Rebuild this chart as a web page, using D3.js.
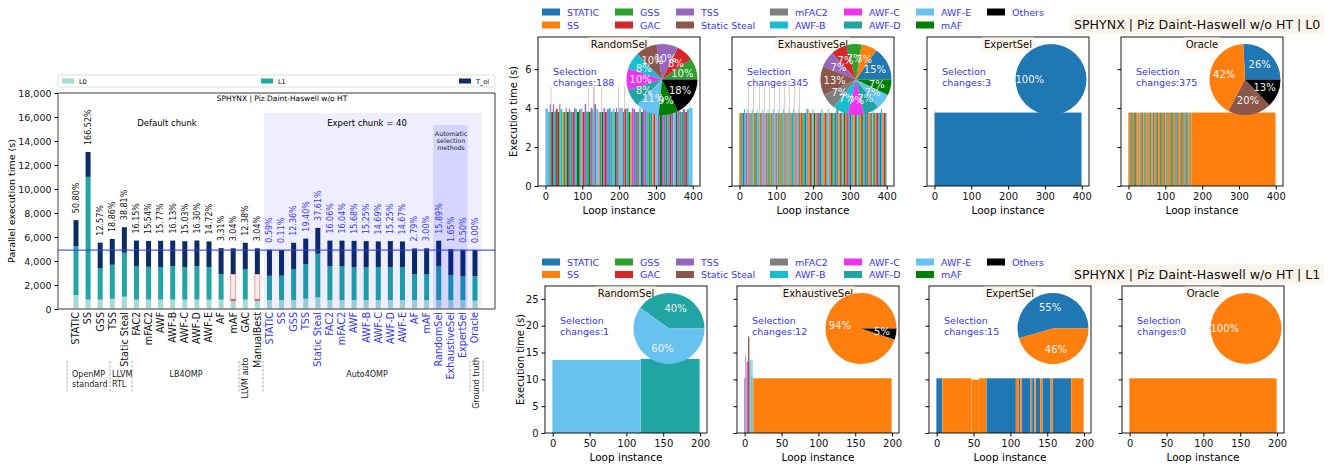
<!DOCTYPE html>
<html>
<head>
<meta charset="utf-8">
<script src="https://cdn.jsdelivr.net/npm/d3@7"></script>
<style>
body { margin: 0; background: #fff; font-family: "DejaVu Sans", sans-serif; }
</style>
</head>
<body>
<script>
// ---------- left chart data ----------
var defaultLabels = ["STATIC", "SS", "GSS", "TSS", "Static Steal", "FAC2", "mFAC2", "AWF", "AWF-B", "AWF-C", "AWF-D", "AWF-E", "AF", "mAF", "GAC", "ManualBest"];
var autoLabels = ["STATIC", "SS", "GSS", "TSS", "Static Steal", "FAC2", "mFAC2", "AWF", "AWF-B", "AWF-C", "AWF-D", "AWF-E", "AF", "mAF", "RandomSel", "ExhaustiveSel", "ExpertSel", "Oracle"];

var l0Default  = [1165, 780, 780, 860, 1025, 780, 780, 780, 780, 780, 780, 780, 780, 750, 780, 750];
var l1Default  = [4075, 10230, 2630, 2830, 3665, 2800, 2740, 2710, 2800, 2710, 2800, 2710, 2130, 2160, 2550, 2160];
var tolDefault = [2164, 2076, 2117, 2146, 2126, 2123, 2153, 2194, 2122, 2158, 2130, 2143, 2163, 2149, 2188, 2149];
var pctDefault = ["50.80%", "166.52%", "12.57%", "18.86%", "38.81%", "16.15%", "15.54%", "15.77%", "16.13%", "15.03%", "16.30%", "14.72%", "3.31%", "3.04%", "12.38%", "3.04%"];

var l0Auto  = [750, 750, 750, 860, 970, 750, 750, 750, 750, 750, 750, 750, 750, 750, 750, 750, 750, 700];
var l1Auto  = [2020, 2020, 2580, 2880, 3630, 2830, 2830, 2740, 2740, 2740, 2740, 2740, 2160, 2160, 2830, 2080, 2000, 2050];
var tolAuto = [2169, 2145, 2187, 2123, 2157, 2119, 2118, 2190, 2169, 2141, 2169, 2140, 2137, 2147, 2110, 2161, 2185, 2160];
var pctAuto = ["0.59%", "0.11%", "12.36%", "19.40%", "37.61%", "16.06%", "16.04%", "15.68%", "15.25%", "14.69%", "15.25%", "14.67%", "2.79%", "3.00%", "15.89%", "1.65%", "0.50%", "0.00%"];

var oracleTime = 4910;
var yTicksLeft = [0, 2000, 4000, 6000, 8000, 10000, 12000, 14000, 16000, 18000];

// ---------- right panels data ----------
var legendNames = ["STATIC", "SS", "GSS", "GAC", "TSS", "Static Steal", "mFAC2", "AWF-B", "AWF-C", "AWF-D", "AWF-E", "mAF", "Others"];
var codeNames = {S: "STATIC", O: "SS", G: "GSS", C: "GAC", T: "TSS", B: "Static Steal", M: "mFAC2",
                 Y: "AWF-B", P: "AWF-C", D: "AWF-D", E: "AWF-E", A: "mAF", K: "Others"};
var panelTitles = ["RandomSel", "ExhaustiveSel", "ExpertSel", "Oracle"];
var changesL0 = [188, 345, 3, 375];
var changesL1 = [1, 12, 15, 0];

// runs: [method code, number of loop instances, execution time]
var randomSelL0 = [
  ["E",8,3.98],["D",4,3.8],["T",3,4.2],["B",1,5.1],["A",5,3.8],["P",3,4.2],["D",5,3.82],["C",5,3.95],
  ["A",4,3.8],["T",3,4.2],["Y",5,3.95],["O",3,3.78],["G",6,3.8],["P",3,4.0],["A",6,3.8],["T",4,3.95],
  ["D",6,3.8],["C",4,3.8],["P",3,4.0],["Y",5,3.95],["A",6,3.8],["B",4,3.95],["E",5,3.98],["C",6,3.8],
  ["T",4,4.22],["D",5,3.82],["B",1,5.1],["A",6,3.8],["P",4,4.0],["Y",3,3.95],["B",1,5.1],["G",1,3.8],
  ["B",1,5.1],["T",5,4.2],["E",6,3.95],["O",3,3.78],["D",5,3.8],["B",1,5.1],["A",5,3.8],["P",4,4.0],
  ["C",5,3.8],["Y",6,3.95],["T",4,4.0],["D",6,3.82],["E",5,3.98],["A",4,3.8],["P",3,4.0],["G",4,3.8],
  ["B",1,5.1],["E",7,4.0],["T",3,4.0],["D",4,3.8],["B",1,5.1],["C",5,3.95],["Y",6,4.0],["A",5,3.8],
  ["O",4,3.78],["P",4,4.0],["T",5,3.95],["D",6,3.8],["C",4,3.8],["E",6,3.98],["A",5,3.8],["P",5,4.0],
  ["T",5,3.95],["Y",6,3.95],["G",4,3.8],["D",6,3.8],["O",3,3.78],["C",5,3.8],["E",7,3.98],["T",5,4.0],
  ["A",6,3.8],["P",5,4.0],["D",5,3.82],["B",4,3.95],["Y",6,3.95],["C",5,3.8],["T",6,4.0],["E",6,3.98],
  ["A",5,3.8],["P",5,4.0],["D",6,3.82],["G",4,3.8],["T",6,3.95],["C",5,3.8],["Y",5,3.95],["B",1,5.1],
  ["E",9,4.0]
];
var exhaustiveSelL0 = [
  ["O",3,3.75],["C",2,3.75],["G",3,3.75],["D",2,3.75],["S",3,3.75],["Y",3,3.95],["M",2,3.75],["P",3,3.75],["E",2,3.95],["A",2,3.75],["B",1,5.1],
  ["O",2,3.75],["C",2,3.75],["D",2,3.75],["S",2,3.75],["Y",2,3.95],["G",2,3.75],["B",1,5.1],
  ["O",2,3.75],["A",2,3.75],["C",2,3.75],["D",3,3.75],["E",2,3.95],["S",2,3.75],["M",2,3.75],["B",1,5.1],
  ["O",2,3.75],["C",2,3.75],["G",2,3.75],["D",2,3.75],["Y",2,3.95],["P",3,3.75],["B",1,5.1],
  ["O",2,3.75],["D",2,3.75],["C",2,3.75],["S",2,3.75],["E",2,3.95],["A",3,3.75],["B",1,5.1],
  ["O",2,3.75],["C",2,3.75],["G",2,3.75],["D",2,3.75],["Y",2,3.95],["S",2,3.75],["B",1,5.1],
  ["O",2,3.75],["T",2,3.75],["C",2,3.75],["D",2,3.75],["E",2,3.95],["A",3,3.75],["B",1,5.1],
  ["O",2,3.75],["C",2,3.75],["G",3,3.75],["D",2,3.75],["Y",2,3.95],["S",2,3.75],["B",1,5.1],
  ["O",2,3.75],["C",2,3.75],["D",2,3.75],["M",2,3.75],["E",2,3.95],["A",2,3.75],["B",1,5.1],
  ["O",2,3.75],["C",2,3.75],["G",2,3.75],["D",3,3.75],["Y",2,3.95],["S",2,3.75],["B",1,5.1],
  ["O",2,3.75],["C",2,3.75],["P",2,3.75],["D",2,3.75],["E",2,3.95],["A",3,3.75],["B",1,5.1],
  ["O",3,3.75],["C",3,3.75],["G",4,3.75],["D",3,3.75],["S",4,3.75],["Y",3,3.95],["B",3,3.95],["O",4,3.75],["C",3,3.75],["D",4,3.75],["E",3,3.95],["A",4,3.75],
  ["O",3,3.75],["T",3,3.75],["C",4,3.75],["D",3,3.75],["S",4,3.75],["Y",3,3.95],["G",3,3.75],["O",4,3.75],["C",3,3.75],["D",4,3.75],["E",3,3.95],["M",3,3.75],
  ["O",3,3.75],["C",3,3.75],["G",4,3.75],["D",3,3.75],["S",4,3.75],["Y",3,3.95],["B",3,3.95],["O",4,3.75],["C",3,3.75],["D",4,3.75],["E",3,3.95],["A",4,3.75],
  ["O",3,3.75],["P",3,3.75],["C",4,3.75],["D",3,3.75],["S",4,3.75],["Y",3,3.95],["G",3,3.75],["O",4,3.75],["C",3,3.75],["D",4,3.75],["E",3,3.95],["A",3,3.75],
  ["O",3,3.75],["C",3,3.75],["G",4,3.75],["D",3,3.75],["S",4,3.75],["Y",3,3.95],["B",3,3.95],["O",4,3.75],["C",3,3.75],["D",4,3.75],["E",3,3.95],["A",4,3.75],
  ["O",3,3.75],["T",3,3.75],["C",4,3.75],["D",3,3.75],["S",4,3.75],["Y",3,3.95],["O",4,3.75],["C",4,3.75],["D",4,3.75]
];
var expertSelL0 = [["C",1,3.9],["S",399,3.77]];
var oracleL0 = [
  ["O",4,3.77],["A",2,3.77],["M",4,3.77],["O",3,3.77],["G",2,3.77],["M",4,3.77],["A",2,3.77],["O",4,3.77],["M",3,3.77],["G",2,3.77],
  ["O",4,3.77],["A",2,3.77],["M",5,3.77],["O",3,3.77],["A",2,3.77],["M",4,3.77],["O",5,3.77],["G",2,3.77],["M",3,3.77],["A",2,3.77],
  ["O",4,3.77],["M",4,3.77],["G",2,3.77],["O",3,3.77],["A",2,3.77],["M",4,3.77],["O",5,3.77],["M",3,3.77],["A",2,3.77],["O",4,3.77],
  ["G",2,3.77],["M",4,3.77],["O",3,3.77],["A",2,3.77],["M",4,3.77],["O",4,3.77],["G",2,3.77],["M",3,3.77],["A",2,3.77],["O",4,3.77],
  ["M",4,3.77],["A",2,3.77],["M",4,3.77],["O",5,3.77],["G",2,3.77],["M",4,3.77],["A",2,3.77],["O",4,3.77],["M",4,3.77],["G",2,3.77],
  ["A",2,3.77],["M",4,3.77],["O",3,3.77],["A",2,3.77],["M",2,3.77],["O",229,3.77]
];

var randomSelL1 = [["E",120,13.6],["D",80,13.8]];
var exhaustiveSelL1 = [["S",1,10.2],["T",1,14.5],["O",1,10.2],["P",2,13.3],["B",2,18],["G",1,13.3],["E",2,13.6],["A",1,10.5],["E",1,13.6],["O",188,10.2]];
var expertSelL1 = [
  ["S",8,10.2],["O",40,10.2],["O",10,9.95],["O",10,10.2],["S",40,10.2],["O",4,10.2],["S",2,10.2],["O",2,10.2],
  ["S",12,10.2],["O",2,10.2],["S",3,10.2],["O",2,10.2],["S",6,10.2],["O",3,10.2],["S",11,10.2],["O",3,10.2],
  ["S",25,10.2],["O",17,10.2]
];
var oracleL1 = [["O",200,10.2]];

// pie shares: [method, percent label]
var randomPieL0 = [["GSS",10],["GAC",8],["TSS",10],["Static Steal",10],["AWF-B",8],["AWF-C",10],["AWF-D",8],["AWF-E",11],["mAF",9],["Others",18]];
var exhaustivePieL0 = [["STATIC",15],["SS",7],["GSS",7],["GAC",7],["TSS",7],["Static Steal",13],["mFAC2",7],["AWF-B",7],["AWF-C",7],["AWF-D",7],["AWF-E",7],["mAF",7]];
var expertPieL0 = [["STATIC",100]];
var oraclePieL0 = [["STATIC",26],["SS",42],["Static Steal",20],["Others",13]];
var randomPieL1 = [["AWF-D",40],["AWF-E",60]];
var exhaustivePieL1 = [["SS",94],["Others",5]];
var expertPieL1 = [["STATIC",55],["SS",46]];
var oraclePieL1 = [["SS",100]];

var colors = {
  "STATIC": "#1f77b4", "SS": "#ff7f0e", "GSS": "#2ca02c", "GAC": "#d62728", "TSS": "#9467bd",
  "Static Steal": "#8c564b", "mFAC2": "#7f7f7f", "AWF-B": "#17becf", "AWF-C": "#ee33ee",
  "AWF-D": "#20a4a4", "AWF-E": "#67c2ef", "mAF": "#008000", "Others": "#000000"
};

var width = 1333, height = 468;
var blueText = "#3535f5";

var svg = d3.select("body").append("svg")
    .attr("width", width)
    .attr("height", height)
    .style("font-family", "'DejaVu Sans', sans-serif");

// ================= left chart =================
var rows = [];
defaultLabels.forEach(function(name, i) {
  rows.push({name: name, auto: false, L0: l0Default[i], L1: l1Default[i], T_ol: tolDefault[i], pct: pctDefault[i]});
});
autoLabels.forEach(function(name, i) {
  rows.push({name: name, auto: true, L0: l0Auto[i], L1: l1Auto[i], T_ol: tolAuto[i], pct: pctAuto[i]});
});
rows.forEach(function(d, i) { d.idx = i; });

var left = {x0: 58, x1: 495, y0: 93, y1: 309};
var x = d3.scalePoint().domain(d3.range(rows.length)).range([76, 475]);
var y = d3.scaleLinear().domain([0, 18000]).range([left.y1, left.y0]);
var barW = 5;

var lc = svg.append("g").attr("class", "left-chart");

// legend
var lg = lc.append("g").attr("class", "legend");
lg.append("rect").attr("x", 58).attr("y", 75).attr("width", 437).attr("height", 12)
  .attr("fill", "#fff").attr("stroke", "#ddd").attr("rx", 2);
var layerColors = {L0: "#a6dbd3", L1: "#22a5a5", T_ol: "#0c2d64"};
[["L0", 62], ["L1", 261], ["T_ol", 459]].forEach(function(l) {
  lg.append("rect").attr("x", l[1]).attr("y", 78.5).attr("width", 12).attr("height", 5)
    .attr("fill", layerColors[l[0]]);
  lg.append("text").attr("x", l[1] + 17).attr("y", 83.5).attr("font-size", 6.5).text(l[0]);
});

var stack = d3.stack().keys(["L0", "L1", "T_ol"]);
var series = stack(rows);

function isHollow(d) {
  return !d.auto && (d.name === "mAF" || d.name === "ManualBest");
}

series.forEach(function(s) {
  lc.append("g").selectAll("rect")
    .data(s)
    .enter().append("rect")
    .attr("x", function(d) { return x(d.data.idx) - barW / 2; })
    .attr("width", barW)
    .attr("y", function(d) { return y(d[1]); })
    .attr("height", function(d) { return y(d[0]) - y(d[1]); })
    // mAF and ManualBest in the default group are drawn hollow
    .attr("fill", function(d) { return (s.key === "L1" && isHollow(d.data)) ? "#f6ecec" : layerColors[s.key]; })
    .attr("stroke", function(d) { return (s.key === "L1" && isHollow(d.data)) ? "#f08a8a" : "none"; })
    .attr("stroke-width", 0.8);
});
// red L0 edge for the hollow bars
lc.append("g").selectAll("line")
  .data(rows.filter(isHollow))
  .enter().append("line")
  .attr("x1", function(d) { return x(d.idx) - barW / 2; })
  .attr("x2", function(d) { return x(d.idx) + barW / 2; })
  .attr("y1", function(d) { return y(d.L0); })
  .attr("y2", function(d) { return y(d.L0); })
  .attr("stroke", "#e02020").attr("stroke-width", 1.2);

// shaded regions (on top of bars)
var stepX = x.step();
lc.append("rect")
  .attr("x", x(16) - stepX / 2 + 0.5).attr("y", 113)
  .attr("width", x(33) - x(16) + stepX).attr("height", left.y1 - 113)
  .attr("fill", "#0000ff").attr("opacity", 0.065);
lc.append("rect")
  .attr("x", x(30) - stepX / 2 + 0.5).attr("y", 125)
  .attr("width", x(32) - x(30) + stepX * 0.85).attr("height", left.y1 - 125)
  .attr("fill", "#0000ff").attr("opacity", 0.1);

// oracle reference line
lc.append("line")
  .attr("x1", left.x0).attr("x2", left.x1)
  .attr("y1", y(oracleTime)).attr("y2", y(oracleTime))
  .attr("stroke", "#3a3af0").attr("stroke-width", 1.4).attr("opacity", 0.85);

// percent labels
lc.append("g").selectAll("text")
  .data(rows)
  .enter().append("text")
  .attr("transform", function(d) {
    return "translate(" + (x(d.idx)) + "," + (y(d.L0 + d.L1 + d.T_ol) - 7) + ") rotate(-90)";
  })
  .attr("dy", "0.35em")
  .attr("font-size", 8)
  .attr("fill", function(d) { return d.auto ? blueText : "#111"; })
  .text(function(d) { return d.pct; });

// frame
lc.append("line").attr("x1", left.x0).attr("x2", left.x1).attr("y1", left.y0).attr("y2", left.y0).attr("stroke", "#000").attr("stroke-width", 0.8);
lc.append("line").attr("x1", left.x1).attr("x2", left.x1).attr("y1", left.y0).attr("y2", left.y1).attr("stroke", "#000").attr("stroke-width", 0.8);
lc.append("line").attr("x1", left.x0).attr("x2", left.x1).attr("y1", left.y1).attr("y2", left.y1).attr("stroke", "#777").attr("stroke-width", 1.4);
lc.append("line").attr("x1", left.x0).attr("x2", left.x0).attr("y1", left.y0).attr("y2", left.y1).attr("stroke", "#777").attr("stroke-width", 1.4);

// y axis
var yAxis = lc.append("g")
  .attr("transform", "translate(" + left.x0 + ",0)")
  .call(d3.axisLeft(y).tickValues(yTicksLeft).tickFormat(d3.format(",")).tickSize(3.5));
yAxis.select(".domain").remove();
yAxis.selectAll("text").attr("font-size", 9.5).attr("font-family", "'DejaVu Sans', sans-serif").attr("fill", "#111");

lc.append("text")
  .attr("transform", "translate(15," + ((left.y0 + left.y1) / 2) + ") rotate(-90)")
  .attr("text-anchor", "middle").attr("font-size", 9.5)
  .text("Parallel execution time (s)");

// x labels
lc.append("g").selectAll("text")
  .data(rows)
  .enter().append("text")
  .attr("transform", function(d) { return "translate(" + x(d.idx) + "," + (left.y1 + 3) + ") rotate(-90)"; })
  .attr("text-anchor", "end").attr("dy", "0.35em")
  .attr("font-size", 9.6)
  .attr("fill", function(d) { return d.auto ? blueText : "#111"; })
  .text(function(d) { return d.name; });

// annotations
lc.append("text").attr("x", 282).attr("y", 101).attr("text-anchor", "middle").attr("font-size", 7.5)
  .text("SPHYNX | Piz Daint-Haswell w/o HT");
lc.append("text").attr("x", 167).attr("y", 126).attr("text-anchor", "middle").attr("font-size", 8.5)
  .text("Default chunk");
lc.append("text").attr("x", 367).attr("y", 126).attr("text-anchor", "middle").attr("font-size", 8.5)
  .text("Expert chunk = 40");
["Automatic", "selection", "methods"].forEach(function(t, i) {
  lc.append("text").attr("x", 451).attr("y", 136 + i * 7.2).attr("text-anchor", "middle")
    .attr("font-size", 6.3).attr("fill", "#222").text(t);
});

// group separators below the axis
[67, 110, 132, 239, 263, 470, 483].forEach(function(gx) {
  lc.append("line").attr("x1", gx).attr("x2", gx).attr("y1", 361).attr("y2", 393)
    .attr("stroke", "#999").attr("stroke-width", 0.8).attr("stroke-dasharray", "2.5,1.5");
});
var grpText = lc.append("g").attr("font-size", 8).attr("fill", "#222");
grpText.append("text").attr("x", 72).attr("y", 377).text("OpenMP");
grpText.append("text").attr("x", 72).attr("y", 387).text("standard");
grpText.append("text").attr("x", 112).attr("y", 377).text("LLVM");
grpText.append("text").attr("x", 112).attr("y", 387).text("RTL");
grpText.append("text").attr("x", 186).attr("y", 377).attr("text-anchor", "middle").text("LB4OMP");
grpText.append("text").attr("x", 367).attr("y", 377).attr("text-anchor", "middle").text("Auto4OMP");
grpText.append("text").attr("transform", "translate(245.5,378) rotate(-90)")
  .attr("text-anchor", "middle").attr("dy", "0.35em").text("LLVM auto");
grpText.append("text").attr("transform", "translate(476,383) rotate(-90)")
  .attr("text-anchor", "middle").attr("dy", "0.35em").text("Ground truth");

// ================= right panels =================
var legendCols = [542, 615, 676, 770, 844, 916, 987];

function drawLegend(g, rowY) {
  legendNames.forEach(function(name, i) {
    var cx = legendCols[Math.floor(i / 2)];
    var cy = rowY[i % 2];
    g.append("rect").attr("x", cx).attr("y", cy - 3.5).attr("width", 18).attr("height", 7)
      .attr("fill", colors[name]);
    g.append("text").attr("x", cx + 25).attr("y", cy + 3.5).attr("font-size", 9.5)
      .attr("fill", blueText).text(name);
  });
}

function drawHeader(g, cy, label) {
  var t = g.append("text").attr("x", 1074).attr("y", cy + 4.5).attr("font-size", 12.6)
    .attr("fill", "#111").text(label);
  var bb = t.node().getBBox();
  g.insert("rect", "text").attr("x", bb.x - 4).attr("y", cy - 9.5).attr("width", bb.width + 8).attr("height", 19)
    .attr("rx", 3).attr("fill", "#fbf4ea");
}

function drawPanel(g, p) {
  var xs = d3.scaleLinear().domain(p.xDomain).range([p.left, p.left + p.w]);
  var ys = d3.scaleLinear().domain(p.yDomain).range([p.top + p.h, p.top]);

  // expand runs into consecutive instances
  var segs = [];
  var pos = 0;
  p.runs.forEach(function(r) {
    segs.push({m: codeNames[r[0]], start: pos, n: r[1], v: r[2]});
    pos += r[1];
  });

  g.append("g").selectAll("rect")
    .data(segs)
    .enter().append("rect")
    .attr("x", function(d) { return xs(d.start - 0.4); })
    .attr("width", function(d) { return xs(d.start + d.n - 0.6) - xs(d.start - 0.4); })
    .attr("y", function(d) { return ys(d.v); })
    .attr("height", function(d) { return ys(0) - ys(d.v); })
    .attr("fill", function(d) { return colors[d.m]; });

  // axes
  var xa = g.append("g").attr("transform", "translate(0," + (p.top + p.h) + ")")
    .call(d3.axisBottom(xs).tickValues(p.xTicks).tickSize(3.5));
  xa.select(".domain").remove();
  xa.selectAll("text").attr("font-size", 10).attr("font-family", "'DejaVu Sans', sans-serif").attr("fill", "#111");

  var ya = g.append("g").attr("transform", "translate(" + p.left + ",0)")
    .call(d3.axisLeft(ys).tickValues(p.yTicks).tickSize(3.5));
  ya.select(".domain").remove();
  ya.selectAll("text").attr("font-size", 10).attr("font-family", "'DejaVu Sans', sans-serif").attr("fill", "#111");
  if (!p.showY) ya.selectAll("text").remove();

  g.append("rect").attr("x", p.left).attr("y", p.top).attr("width", p.w).attr("height", p.h)
    .attr("fill", "none").attr("stroke", "#000").attr("stroke-width", 0.9);

  g.append("text").attr("x", p.left + p.w / 2).attr("y", p.top + p.h + 28)
    .attr("text-anchor", "middle").attr("font-size", 10.5).text("Loop instance");
  if (p.showY) {
    g.append("text").attr("transform", "translate(" + (p.left - 21) + "," + (p.top + p.h / 2) + ") rotate(-90)")
      .attr("text-anchor", "middle").attr("font-size", 10).text("Execution time (s)");
  }

  // title box
  var title = g.append("text").attr("x", p.left + p.w / 2).attr("y", p.top + 11)
    .attr("text-anchor", "middle").attr("font-size", 10).attr("fill", "#111").text(p.title);
  var bb = title.node().getBBox();
  g.insert("rect", function() { return title.node(); })
    .attr("x", bb.x - 3).attr("y", p.top + 0.5).attr("width", bb.width + 6).attr("height", 14)
    .attr("rx", 2).attr("fill", "#fbf4ea");

  // selection changes
  g.append("text").attr("x", p.left + 15).attr("y", p.top + 38).attr("font-size", 9.5)
    .attr("fill", blueText).text("Selection");
  g.append("text").attr("x", p.left + 15).attr("y", p.top + 48.5).attr("font-size", 9.5)
    .attr("fill", blueText).text("changes:" + p.changes);

  // pie (starts at 3 o'clock, counterclockwise)
  var r = 35.5;
  var pie = d3.pie().sort(null).value(function(d) { return d[1]; })
    .startAngle(Math.PI / 2).endAngle(Math.PI / 2 - 2 * Math.PI);
  var arc = d3.arc().innerRadius(0).outerRadius(r);
  var labelArc = d3.arc().innerRadius(r * 0.6).outerRadius(r * 0.6);
  var pg = g.append("g").attr("transform", "translate(" + (p.left + 124) + "," + (p.top + 42.5) + ")");
  var arcs = pie(p.pie);
  pg.selectAll("path").data(arcs).enter().append("path")
    .attr("d", arc)
    .attr("fill", function(d) { return colors[d.data[0]]; });
  pg.selectAll("text").data(arcs).enter().append("text")
    .attr("transform", function(d) {
      return p.pie.length === 1 ? "translate(" + (-r * 0.6) + ",0)" : "translate(" + labelArc.centroid(d) + ")";
    })
    .attr("text-anchor", "middle").attr("dy", "0.35em")
    .attr("font-size", 10).attr("fill", "#f2f2f2")
    .text(function(d) { return d.data[1] + "%"; });
}

var topG = svg.append("g").attr("class", "top-row");
drawLegend(topG, [12, 25]);
drawHeader(topG, 24, "SPHYNX | Piz Daint-Haswell w/o HT | L0");

var botG = svg.append("g").attr("class", "bottom-row");
drawLegend(botG, [262, 274.5]);
drawHeader(botG, 274, "SPHYNX | Piz Daint-Haswell w/o HT | L1");

var topRuns = [randomSelL0, exhaustiveSelL0, expertSelL0, oracleL0];
var topPies = [randomPieL0, exhaustivePieL0, expertPieL0, oraclePieL0];
var topLefts = [538, 732, 927, 1121];
topLefts.forEach(function(lx, i) {
  drawPanel(topG.append("g"), {
    left: lx, top: 37, w: 162, h: 149,
    xDomain: [-20.3, 419.7], yDomain: [0, 7.65],
    xTicks: [0, 100, 200, 300, 400], yTicks: [0, 2, 4, 6],
    showY: i === 0, runs: topRuns[i], pie: topPies[i],
    title: panelTitles[i], changes: changesL0[i]
  });
});

var botRuns = [randomSelL1, exhaustiveSelL1, expertSelL1, oracleL1];
var botPies = [randomPieL1, exhaustivePieL1, expertPieL1, oraclePieL1];
var botLefts = [545, 737, 929, 1122];
botLefts.forEach(function(lx, i) {
  drawPanel(botG.append("g"), {
    left: lx, top: 286, w: 162, h: 147,
    xDomain: [-10.4, 209.4], yDomain: [0, 27.4],
    xTicks: [0, 50, 100, 150, 200], yTicks: [0, 5, 10, 15, 20, 25],
    showY: i === 0, runs: botRuns[i], pie: botPies[i],
    title: panelTitles[i], changes: changesL1[i]
  });
});
</script>
</body>
</html>
